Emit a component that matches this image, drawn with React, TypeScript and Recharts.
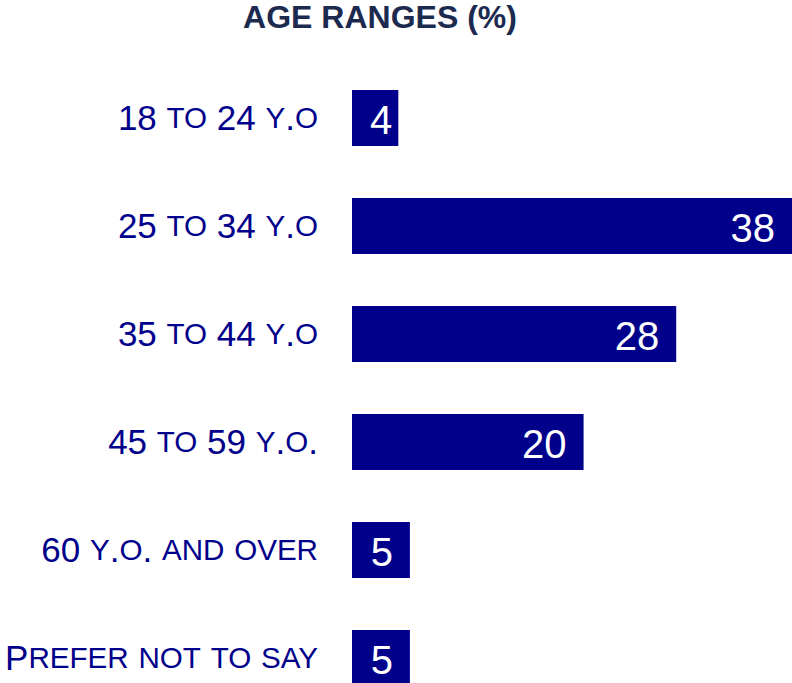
import { BarChart, Bar, XAxis, YAxis, LabelList } from "recharts";

const ageRanges = [
  "18 to 24 y.o",
  "25 to 34 y.o",
  "35 to 44 y.o",
  "45 to 59 y.o.",
  "60 y.o. and over",
  "Prefer not to say",
];
const shares = [4, 38, 28, 20, 5, 5];

const data = ageRanges.map((range, i) => ({ range, share: shares[i] }));

const BAR_COLOR = "#00008b";
const FONT = "Liberation Sans, Arial, sans-serif";
const TICK_FONT = 35;
const TICK_SMALL = 29.6;
const LABEL_FONT = 40;

// small caps by hand: lowercase letters drawn as smaller capitals
const smallCapRuns = (s: string) => {
  const runs: { text: string; small: boolean }[] = [];
  for (const ch of s) {
    const small = ch >= "a" && ch <= "z";
    const last = runs[runs.length - 1];
    if (last && last.small === small) last.text += ch;
    else runs.push({ text: ch, small });
  }
  return runs;
};

const AgeTick = ({ x, y, payload }: any) => (
  <text
    x={x}
    y={y - 1}
    textAnchor="end"
    dominantBaseline="central"
    fill={BAR_COLOR}
    style={{ fontSize: TICK_FONT, fontFamily: FONT, whiteSpace: "pre" }}
  >
    {smallCapRuns(payload.value).map((r, i) => (
      <tspan key={i} style={{ fontSize: r.small ? TICK_SMALL : TICK_FONT }}>
        {r.small ? r.text.toUpperCase() : r.text}
      </tspan>
    ))}
  </text>
);

// value sits at the right end of the bar, but never closer than 18px to its start
const ValueLabel = ({ x, y, width, height, value }: any) => {
  const textW = String(value).length * 0.556 * LABEL_FONT;
  let tx = x + width - 17;
  if (tx - textW < x + 18) tx = x + 18 + textW;
  return (
    <text
      x={tx}
      y={y + height / 2 + 2}
      textAnchor="end"
      dominantBaseline="central"
      fill="#ffffff"
      style={{ fontSize: LABEL_FONT, fontFamily: FONT }}
    >
      {value}
    </text>
  );
};

export default function App() {
  return (
    <div
      style={{
        position: "fixed",
        left: 0,
        top: 0,
        width: 792,
        height: 683,
        overflow: "hidden",
        background: "#ffffff",
        fontFamily: FONT,
      }}
    >
      <div
        style={{
          position: "absolute",
          left: 0,
          top: -1,
          width: 760,
          textAlign: "center",
          fontWeight: "bold",
          fontSize: 32,
          lineHeight: "normal",
          color: "#1c2a50",
        }}
      >
        AGE RANGES (%)
      </div>
      <BarChart
        width={792}
        height={712}
        data={data}
        layout="vertical"
        margin={{ top: 64, right: 0, bottom: 0, left: 0 }}
      >
        <XAxis type="number" domain={[0, 38]} allowDataOverflow hide />
        <YAxis
          type="category"
          dataKey="range"
          width={352}
          axisLine={false}
          tickLine={false}
          tickSize={0}
          tickMargin={34}
          tick={<AgeTick />}
          interval={0}
        />
        <Bar dataKey="share" fill={BAR_COLOR} barSize={56} isAnimationActive={false}>
          <LabelList dataKey="share" content={<ValueLabel />} />
        </Bar>
      </BarChart>
    </div>
  );
}
